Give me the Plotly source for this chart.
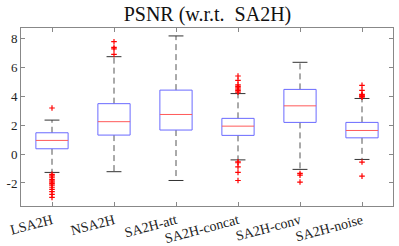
import plotly.graph_objects as go

categories = ["LSA2H", "NSA2H", "SA2H-att", "SA2H-concat", "SA2H-conv", "SA2H-noise"]
q1 = [0.37, 1.32, 1.67, 1.30, 2.20, 1.13]
median = [0.95, 2.25, 2.75, 1.94, 3.35, 1.64]
q3 = [1.48, 3.50, 4.44, 2.48, 4.49, 2.20]
lower_whisker = [-1.27, -1.22, -1.83, -0.40, -1.06, -0.37]
upper_whisker = [2.36, 6.76, 8.20, 4.20, 6.37, 3.86]
outliers = [
    [3.2, -1.4, -1.5, -1.6, -1.75, -1.85, -1.95, -2.05, -2.15, -2.3, -2.45, -2.6, -2.8, -3.0],
    [6.92, 7.3, 7.4, 7.8],
    [],
    [4.3, 4.4, 4.5, 4.6, 4.7, 4.8, 5.12, 5.42, -0.53, -0.6, -0.88, -1.27, -1.83],
    [-1.34, -1.46, -1.94],
    [3.95, 4.0, 4.05, 4.1, 4.15, 4.42, 4.77, -0.55, -1.53],
]

BOX_HALF = 0.26
CAP_HALF = 0.12

pos = list(range(1, len(categories) + 1))

box_x, box_y = [], []
med_x, med_y = [], []
wh_x, wh_y = [], []
cap_x, cap_y = [], []
out_x, out_y = [], []
for i, p in enumerate(pos):
    box_x += [p - BOX_HALF, p + BOX_HALF, p + BOX_HALF, p - BOX_HALF, p - BOX_HALF, None]
    box_y += [q1[i], q1[i], q3[i], q3[i], q1[i], None]
    med_x += [p - BOX_HALF, p + BOX_HALF, None]
    med_y += [median[i], median[i], None]
    wh_x += [p, p, None, p, p, None]
    wh_y += [q3[i], upper_whisker[i], None, q1[i], lower_whisker[i], None]
    cap_x += [p - CAP_HALF, p + CAP_HALF, None, p - CAP_HALF, p + CAP_HALF, None]
    cap_y += [upper_whisker[i], upper_whisker[i], None, lower_whisker[i], lower_whisker[i], None]
    out_x += [p] * len(outliers[i])
    out_y += outliers[i]

fig = go.Figure()
fig.add_trace(go.Scatter(x=wh_x, y=wh_y, mode="lines",
                         line=dict(color="#555555", width=1, dash="6px,4px"), hoverinfo="skip"))
fig.add_trace(go.Scatter(x=cap_x, y=cap_y, mode="lines",
                         line=dict(color="#333333", width=1), hoverinfo="skip"))
fig.add_trace(go.Scatter(x=box_x, y=box_y, mode="lines",
                         line=dict(color="#6a6aff", width=1), hoverinfo="skip"))
fig.add_trace(go.Scatter(x=med_x, y=med_y, mode="lines",
                         line=dict(color="#ff5a5a", width=1), hoverinfo="skip"))
fig.add_trace(go.Scatter(x=out_x, y=out_y, mode="markers",
                         marker=dict(symbol="cross-thin", size=4,
                                     line=dict(color="#ff0000", width=1.2)),
                         hoverinfo="skip"))

serif = "Liberation Serif, Times New Roman, serif"
fig.update_layout(
    width=399, height=246,
    margin=dict(l=21, r=6, t=28, b=40),
    paper_bgcolor="white", plot_bgcolor="white",
    showlegend=False,
    title=dict(text="PSNR (w.r.t.  SA2H)", x=0.52, xanchor="center", y=0.945, yanchor="middle",
               font=dict(family=serif, size=20, color="#111111")),
    font=dict(family=serif, size=13, color="#222222"),
)
fig.update_xaxes(range=[0.5, 6.5], tickvals=pos, ticktext=categories, tickangle=-15,
                 automargin=False,
                 showgrid=False, zeroline=False, showline=True, linecolor="#888888", linewidth=1,
                 mirror="ticks", ticks="inside", ticklen=4, tickcolor="#888888",
                 tickfont=dict(family=serif, size=14))
fig.update_yaxes(range=[-3.6, 8.75], tickvals=[-2, 0, 2, 4, 6, 8], ticktext=["-2", "0", "2", "4", "6", "8"],
                 automargin=False,
                 showgrid=False, zeroline=False, showline=True, linecolor="#888888", linewidth=1,
                 mirror="ticks", ticks="inside", ticklen=4, tickcolor="#888888",
                 tickfont=dict(family=serif, size=13))

fig.write_html("out.html", config={"displayModeBar": False},
               post_script="document.body.style.margin='0';")
